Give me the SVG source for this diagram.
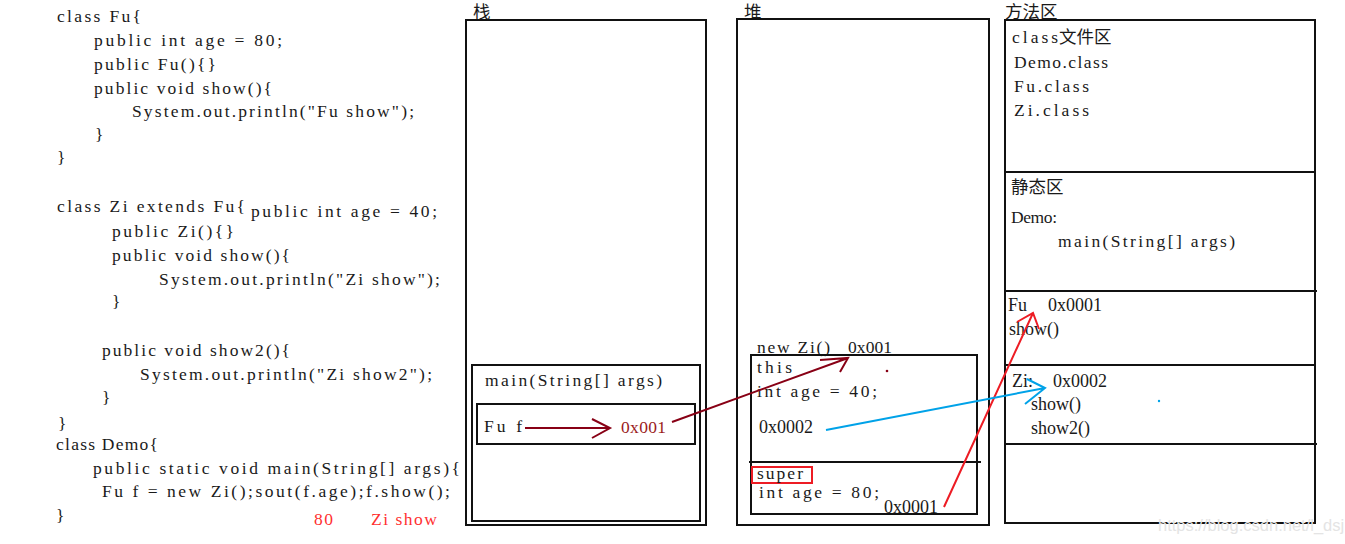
<svg xmlns="http://www.w3.org/2000/svg" width="1345" height="544" viewBox="0 0 1345 544">
<style>
  .code { font-family: "Liberation Serif", "Noto Sans CJK SC", serif; font-size: 17.5px; fill: #1a1a1a; }
  .serif { font-family: "Liberation Serif", "Noto Sans CJK SC", serif; font-size: 18px; fill: #1a1a1a; }
  .cjk { font-family: "Noto Sans CJK SC", sans-serif; font-size: 17.5px; fill: #1a1a1a; }
  .box { fill: none; stroke: #111; stroke-width: 2; }
  .red { fill: #ff3030; }
  .dred { fill: #9b1b1b; }
  .c-dred { fill: none; stroke: #880015; stroke-width: 2; }
  .c-red { fill: none; stroke: #ed1c24; stroke-width: 2; }
  .c-blue { fill: none; stroke: #00a2e8; stroke-width: 2; }
</style>
<rect width="1345" height="544" fill="#ffffff"/>

<g id="code">
  <text class="code" x="57" y="22" textLength="84" lengthAdjust="spacing">class Fu{</text>
  <text class="code" x="94" y="46" textLength="188" lengthAdjust="spacing">public int age = 80;</text>
  <text class="code" x="94" y="70" textLength="122" lengthAdjust="spacing">public Fu(){}</text>
  <text class="code" x="94" y="94" textLength="178" lengthAdjust="spacing">public void show(){</text>
  <text class="code" x="132" y="117" textLength="282" lengthAdjust="spacing">System.out.println("Fu show");</text>
  <text class="code" x="95" y="140">}</text>
  <text class="code" x="57" y="163">}</text>
  <text class="code" x="57" y="212" textLength="188" lengthAdjust="spacing">class Zi extends Fu{</text>
  <text class="code" x="251" y="217" textLength="186" lengthAdjust="spacing">public int age = 40;</text>
  <text class="code" x="112" y="237" textLength="122" lengthAdjust="spacing">public Zi(){}</text>
  <text class="code" x="112" y="261" textLength="178" lengthAdjust="spacing">public void show(){</text>
  <text class="code" x="159" y="285" textLength="281" lengthAdjust="spacing">System.out.println("Zi show");</text>
  <text class="code" x="112" y="307">}</text>
  <text class="code" x="102" y="356" textLength="188" lengthAdjust="spacing">public void show2(){</text>
  <text class="code" x="140" y="380" textLength="292" lengthAdjust="spacing">System.out.println("Zi show2");</text>
  <text class="code" x="102" y="403">}</text>
  <text class="code" x="58" y="429">}</text>
  <text class="code" x="56" y="450" textLength="102" lengthAdjust="spacing">class Demo{</text>
  <text class="code" x="93" y="474" textLength="367" lengthAdjust="spacing">public static void main(String[] args){</text>
  <text class="code" x="102" y="497" textLength="348" lengthAdjust="spacing">Fu f = new Zi();sout(f.age);f.show();</text>
  <text class="code" x="56" y="521">}</text>
  <text class="code red" x="314" y="525" textLength="19" lengthAdjust="spacing">80</text>
  <text class="code red" x="371" y="525" textLength="66" lengthAdjust="spacing">Zi show</text>
</g>

<g id="stack">
  <text class="cjk" x="473" y="18">栈</text>
  <rect class="box" x="466" y="20" width="240" height="505"/>
  <g id="main-frame">
    <rect class="box" x="472" y="365" width="228" height="156"/>
    <text class="code" x="485" y="386" textLength="177" lengthAdjust="spacing">main(String[] args)</text>
  </g>
  <g id="var-f">
    <rect class="box" x="477" y="404" width="218" height="40"/>
    <text class="code" x="484" y="432" textLength="38" lengthAdjust="spacing">Fu f</text>
    <text class="code dred" x="621" y="433" textLength="45" lengthAdjust="spacing">0x001</text>
  </g>
</g>

<g id="heap">
  <text class="cjk" x="744" y="18">堆</text>
  <rect class="box" x="737" y="19" width="252" height="506"/>
  <g id="zi-object">
    <text class="code" x="757" y="353" textLength="73" lengthAdjust="spacing">new Zi()</text>
    <text class="code" x="848" y="353" textLength="44" lengthAdjust="spacing">0x001</text>
    <rect class="box" x="751" y="355" width="226" height="159"/>
    <line x1="749" y1="462" x2="981" y2="462" stroke="#111" stroke-width="2"/>
    <text class="code" x="757" y="373" textLength="35" lengthAdjust="spacing">this</text>
    <text class="code" x="757" y="397" textLength="120" lengthAdjust="spacing">int age = 40;</text>
    <text class="serif" x="759" y="433">0x0002</text>
    <rect x="752" y="467" width="60" height="16" fill="none" stroke="#ed1c24" stroke-width="2"/>
    <text class="code" x="757" y="479" font-size="16.5" textLength="46" lengthAdjust="spacing">super</text>
    <text class="code" x="759" y="498" textLength="120" lengthAdjust="spacing">int age = 80;</text>
    <text class="serif" x="884" y="513">0x0001</text>
    <circle cx="887" cy="371" r="1.3" fill="#880015"/>
  </g>
</g>

<g id="method-area">
  <text class="cjk" x="1005" y="18">方法区</text>
  <rect class="box" x="1005" y="20" width="310" height="503"/>
  <g id="class-files">
    <text class="code" x="1012" y="43" textLength="46" lengthAdjust="spacing">class</text>
    <text class="cjk" x="1059" y="43">文件区</text>
    <text class="code" x="1014" y="68" textLength="94" lengthAdjust="spacing">Demo.class</text>
    <text class="code" x="1014" y="92" textLength="75" lengthAdjust="spacing">Fu.class</text>
    <text class="code" x="1014" y="116" textLength="75" lengthAdjust="spacing">Zi.class</text>
  </g>
  <line x1="1005" y1="172" x2="1315" y2="172" stroke="#111" stroke-width="2"/>
  <g id="static-area">
    <text class="cjk" x="1011" y="193">静态区</text>
    <text class="code" x="1011" y="223" textLength="46" lengthAdjust="spacing">Demo:</text>
    <text class="code" x="1058" y="247" textLength="177" lengthAdjust="spacing">main(String[] args)</text>
  </g>
  <line x1="1005" y1="291" x2="1317" y2="291" stroke="#111" stroke-width="2"/>
  <g id="fu-class">
    <text class="serif" x="1008" y="311">Fu</text>
    <text class="serif" x="1048" y="311">0x0001</text>
    <text class="serif" x="1009" y="335">show()</text>
  </g>
  <line x1="1005" y1="365" x2="1315" y2="365" stroke="#111" stroke-width="2"/>
  <g id="zi-class">
    <text class="serif" x="1012" y="387">Zi:</text>
    <text class="serif" x="1053" y="387">0x0002</text>
    <text class="serif" x="1031" y="410">show()</text>
    <text class="serif" x="1031" y="434">show2()</text>
    <circle cx="1159" cy="401" r="1.2" fill="#00a2e8"/>
  </g>
  <line x1="1005" y1="444" x2="1317" y2="444" stroke="#111" stroke-width="2"/>
</g>

<g id="connectors">
  <path class="c-dred" d="M525,428 L610,428 M592,419 L610,428 L592,438"/>
  <path class="c-dred" d="M672,422 L848,358 M820,360 L848,358 L840,372"/>
  <path class="c-red" d="M944,507 L1033,313 M1017,322 L1033,313 L1039,329"/>
  <path class="c-blue" d="M826,430 L1045,388 M1027,379 L1045,388 L1025,404"/>
</g>

<text x="1158" y="531" font-family="Liberation Sans, sans-serif" font-size="16.5" fill="#e4e4e4">https://blog.csdn.net/l_dsj</text>
</svg>
